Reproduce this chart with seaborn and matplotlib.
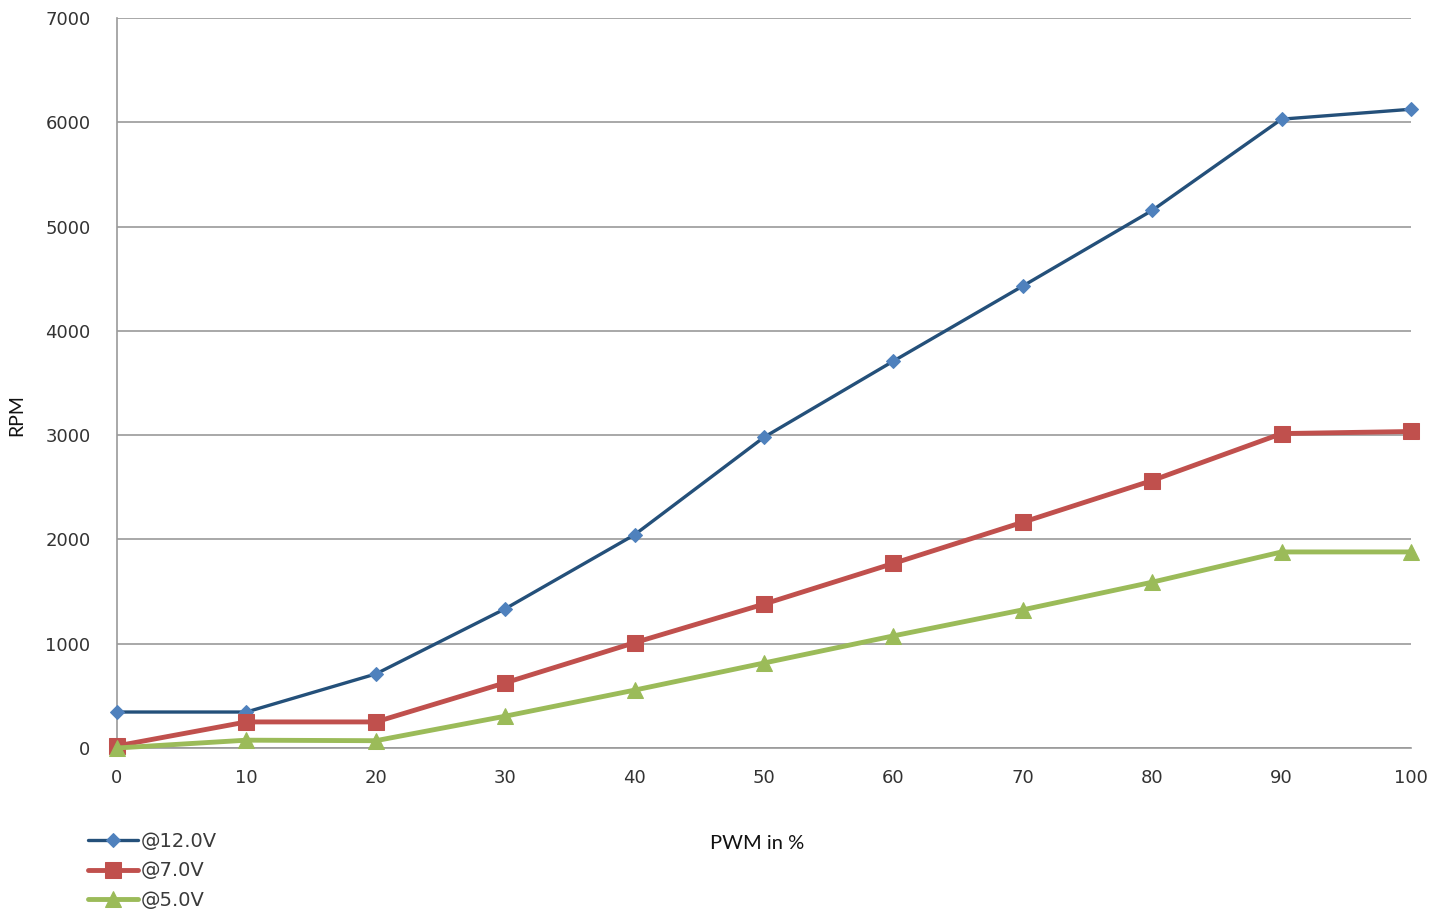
import matplotlib
matplotlib.use("Agg")
import matplotlib.pyplot as plt
import seaborn as sns
import pandas as pd

pwm = [0, 10, 20, 30, 40, 50, 60, 70, 80, 90, 100]
rpm_12v = [345, 345, 710, 1335, 2045, 2980, 3710, 4430, 5155, 6030, 6125]
rpm_7v = [20, 250, 250, 625, 1010, 1380, 1770, 2165, 2565, 3015, 3035]
rpm_5v = [0, 75, 70, 305, 555, 815, 1075, 1325, 1590, 1880, 1880]
series_names = ["@12.0V", "@7.0V", "@5.0V"]

sns.set_theme(style="white")
plt.rcParams['font.family'] = ['DejaVu Sans']

fig = plt.figure(figsize=(14.49, 9.13), dpi=100)
ax = fig.add_axes([117/1449, 1-748/913, (1411-117)/1449, (748-18)/913])

styles = [
    dict(color="#24507a", marker="D", markersize=7, markerfacecolor="#4f81bd", markeredgecolor="#4f81bd", linewidth=2.4),
    dict(color="#c0504d", marker="s", markersize=12, markerfacecolor="#c0504d", markeredgecolor="#c0504d", linewidth=3.5),
    dict(color="#9bbb59", marker="^", markersize=12, markerfacecolor="#9bbb59", markeredgecolor="#9bbb59", linewidth=3.5),
]
for name, vals, st in zip(series_names, [rpm_12v, rpm_7v, rpm_5v], styles):
    df = pd.DataFrame({"PWM": pwm, "RPM": vals})
    sns.lineplot(data=df, x="PWM", y="RPM", ax=ax, label=name, clip_on=False, zorder=3, **st)

ax.set_xlim(0, 100)
ax.set_ylim(0, 7000)
ax.set_xticks(pwm)
ax.set_yticks(range(0, 7001, 1000))
ax.yaxis.grid(True, color="#9a9a9a", linewidth=1.2)
ax.xaxis.grid(False)
for s in ["top", "right"]:
    ax.spines[s].set_visible(False)
for s in ["left", "bottom"]:
    ax.spines[s].set_color("#9a9a9a")
    ax.spines[s].set_linewidth(1.2)
ax.tick_params(axis="both", which="major", direction="out", length=7, width=1.2,
               color="#9a9a9a", labelsize=13, labelcolor="#333333")
ax.tick_params(axis="x", pad=8)
ax.tick_params(axis="y", pad=12)
ax.set_xlabel("")
ax.set_ylabel("")

fig.text(757/1449, 1-843/913, "PWM in %", ha="center", va="center", fontsize=14.5,
         family=["Lato", "DejaVu Sans"], color="#111111")
fig.text(17/1449, 1-415/913, "RPM", ha="center", va="center", rotation=90, fontsize=14,
         family=["Lato", "DejaVu Sans"], color="#111111")

handles, labels = ax.get_legend_handles_labels()
ax.get_legend().remove()
fig.legend(handles, labels, loc="upper left", bbox_to_anchor=(80/1449, 1-824/913),
           frameon=False, fontsize=14, handlelength=2.6, handletextpad=0.1,
           labelspacing=0.55, borderaxespad=0, labelcolor="#3a3a3a")

fig.savefig("out.png", dpi=100, facecolor="white")
